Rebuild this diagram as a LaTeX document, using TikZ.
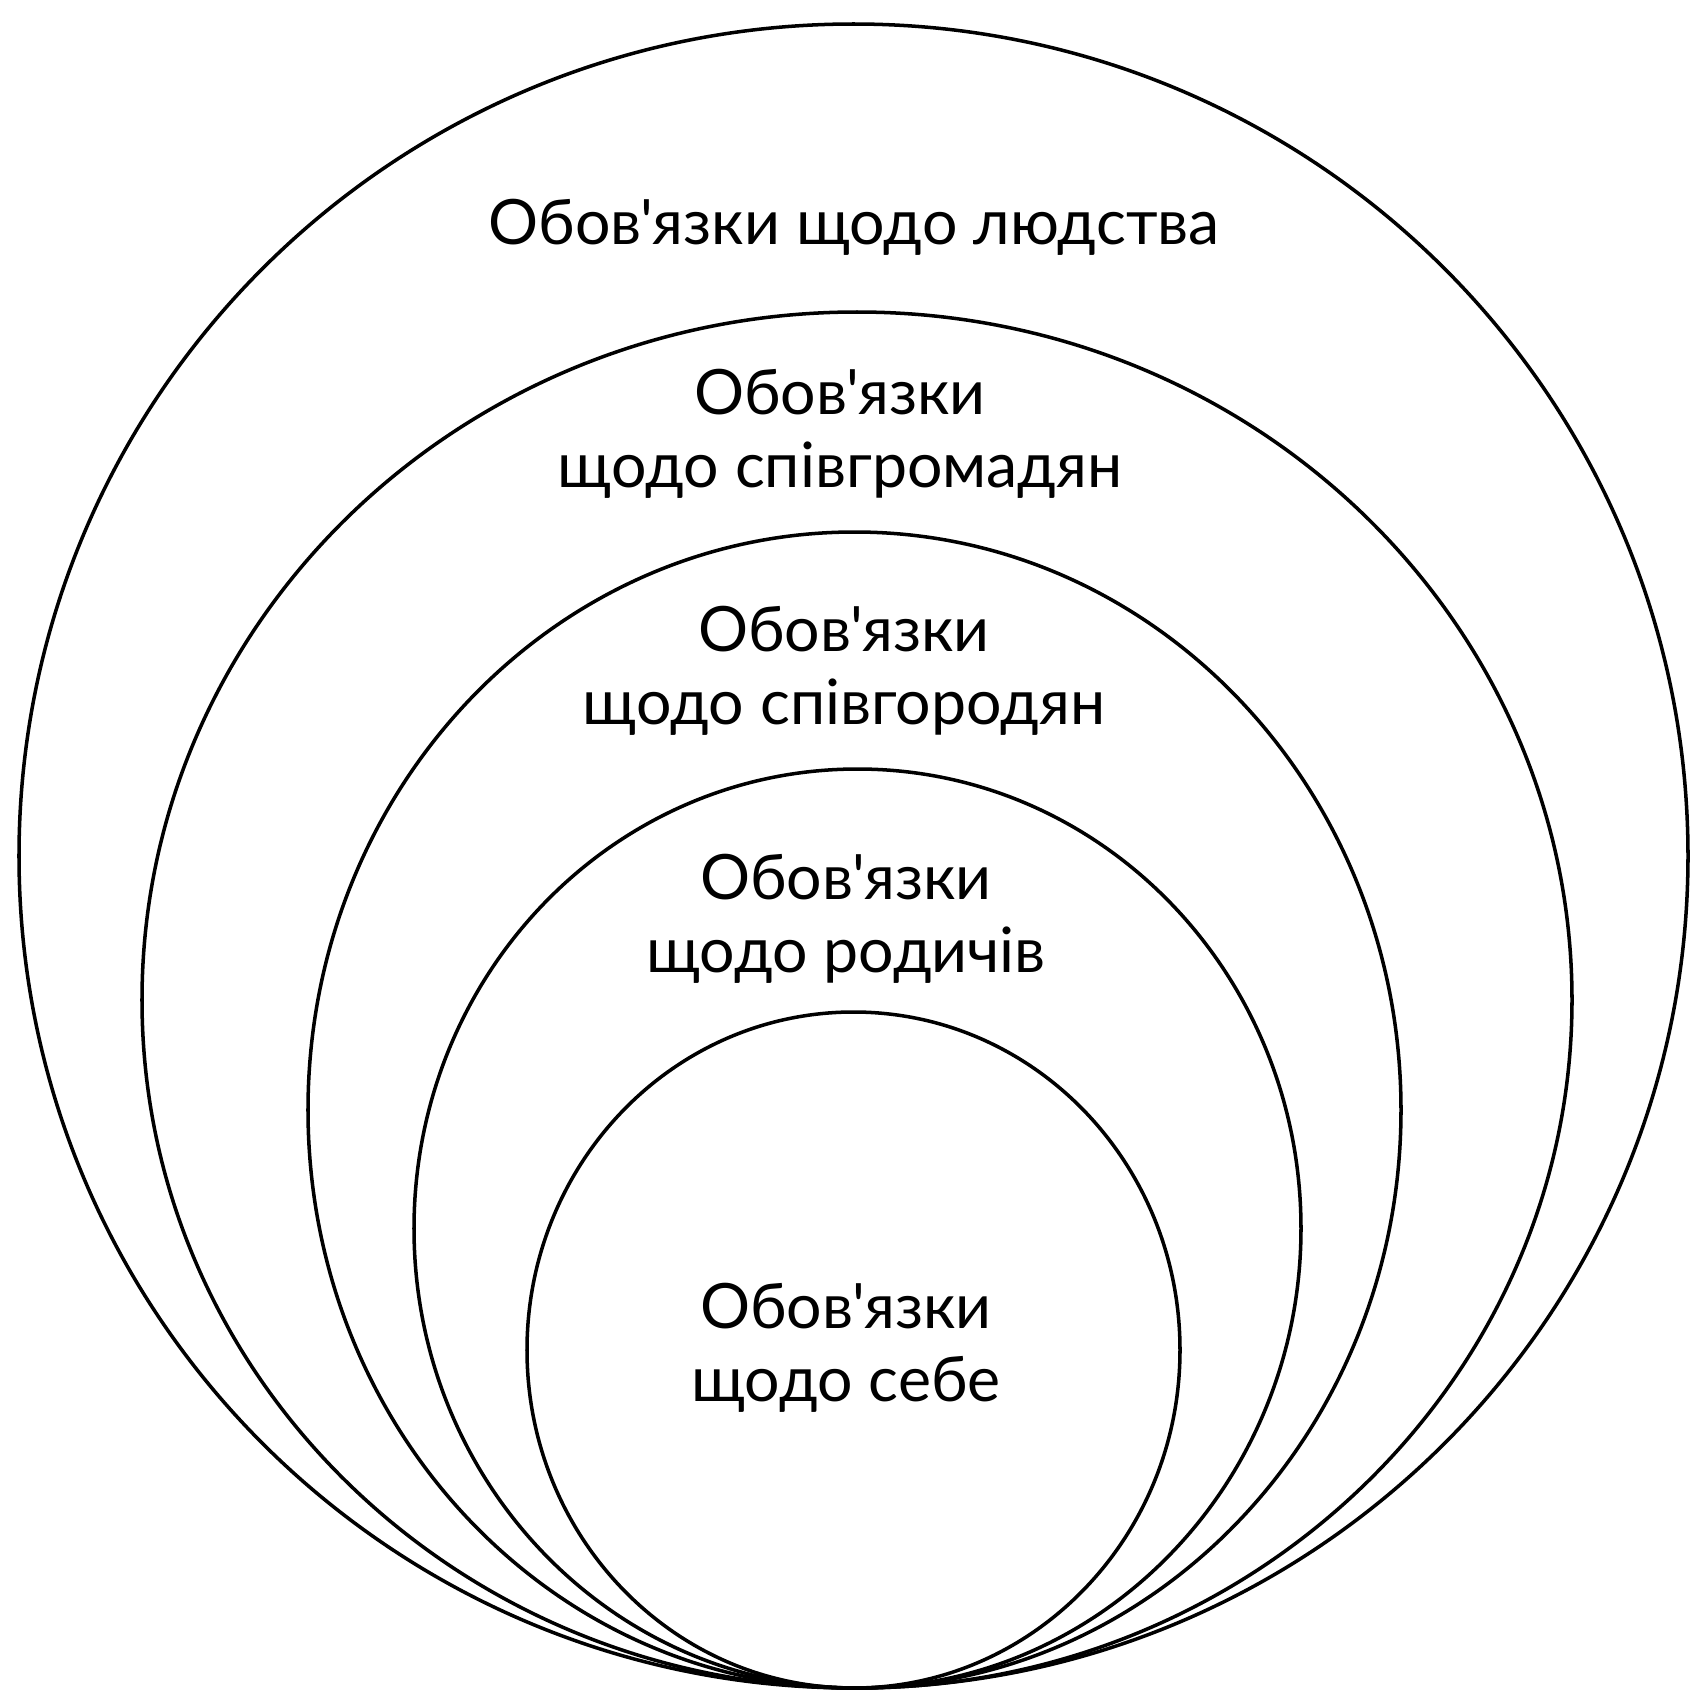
\documentclass[tikz,border=0pt]{standalone}
\usepackage{fontspec}
\setmainfont{Lato}[Ligatures=TeXOff]
\begin{document}
\begin{tikzpicture}[every node/.style={align=center,font=\fontsize{17.8}{20.8}\selectfont}]
\useasboundingbox (0,0) rectangle (16.90,-16.94);
\draw[line width=1pt] (8.535,-8.56) ellipse (8.345 and 8.32);
\draw[line width=1pt] (8.57,-10.00) ellipse (7.15 and 6.88);
\draw[line width=1pt] (8.545,-11.10) ellipse (5.465 and 5.78);
\draw[line width=1pt] (8.575,-12.285) ellipse (4.435 and 4.595);
\draw[line width=1pt] (8.535,-13.50) ellipse (3.265 and 3.38);
\node(1) at (8.54,-2.27) {Обов'язки щодо людства};
\node(2) at (8.40,-4.34) {Обов'язки\\щодо співгромадян};
\node(3) at (8.44,-6.71) {Обов'язки\\щодо співгородян};
\node(4) at (8.46,-9.19) {Обов'язки\\щодо родичів};
\node(5) at (8.46,-13.48) {Обов'язки\\щодо себе};
\end{tikzpicture}
\end{document}
